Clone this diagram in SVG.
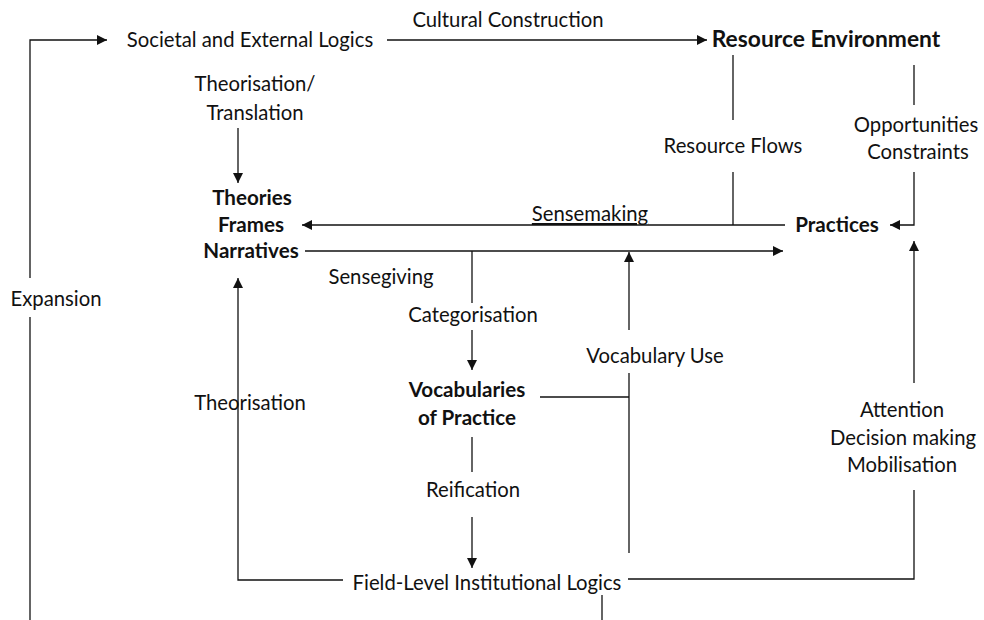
<svg xmlns="http://www.w3.org/2000/svg" width="984" height="620" viewBox="0 0 984 620">
  <style>
    text { font-family: Lato, "Open Sans", "Liberation Sans", sans-serif; font-size: 20.3px; fill: #111; text-anchor: middle; }
    text.b { font-weight: bold; font-size: 20.6px; }
    text.big { font-size: 22.8px; }
    .ln { fill: none; stroke: #111; stroke-width: 1.3; }
    .arr { marker-end: url(#ah); }
  </style>
  <defs>
    <marker id="ah" viewBox="0 0 10 10" refX="10" refY="5" markerWidth="10" markerHeight="10" markerUnits="userSpaceOnUse" orient="auto">
      <path d="M0,0 L10,5 L0,10 Z" fill="#111"/>
    </marker>
  </defs>

  <!-- connectors -->
  <g id="connectors">
    <!-- expansion loop -->
    <path class="ln" d="M30,278 V40 H107" marker-end="url(#ah)"/>
    <path class="ln" d="M30,317 V620"/>
    <!-- cultural construction -->
    <path class="ln arr" d="M387,40 H707"/>
    <!-- theorisation / translation -->
    <path class="ln arr" d="M238,128 V183"/>
    <!-- resource flows -->
    <path class="ln" d="M733,55 V120"/>
    <path class="ln" d="M733,172 V225"/>
    <!-- opportunities / constraints -->
    <path class="ln" d="M914,65 V105"/>
    <path class="ln arr" d="M914,172 V225 H890"/>
    <!-- sensemaking -->
    <path class="ln arr" d="M785,225 H302"/>
    <!-- sensegiving -->
    <path class="ln arr" d="M305,251 H783"/>
    <!-- categorisation -->
    <path class="ln" d="M472,251 V303"/>
    <path class="ln arr" d="M472,330 V370"/>
    <!-- vocabulary use -->
    <path class="ln" d="M540,397 H629"/>
    <path class="ln" d="M629,373 V553"/>
    <path class="ln arr" d="M629,330 V252"/>
    <!-- reification -->
    <path class="ln" d="M472,437 V472"/>
    <path class="ln arr" d="M472,517 V568"/>
    <!-- theorisation -->
    <path class="ln arr" d="M343,580 H238 V278"/>
    <!-- attention / decision making / mobilisation -->
    <path class="ln" d="M628,579 H914 V490"/>
    <path class="ln arr" d="M914,383 V241"/>
    <!-- stub below field-level logics -->
    <path class="ln" d="M602,595 V620"/>
  </g>

  <!-- nodes -->
  <g id="societal"><text x="250" y="47">Societal and External Logics</text></g>
  <g id="resource-env"><text class="b big" x="826" y="47">Resource Environment</text></g>
  <g id="theories">
    <text class="b" x="252" y="205">Theories</text>
    <text class="b" x="251" y="232">Frames</text>
    <text class="b" x="251" y="258">Narratives</text>
  </g>
  <g id="practices"><text class="b" x="837" y="232">Practices</text></g>
  <g id="vocabularies">
    <text class="b" x="467" y="397">Vocabularies</text>
    <text class="b" x="467" y="425">of Practice</text>
  </g>
  <g id="field-logics"><text x="487" y="590">Field-Level Institutional Logics</text></g>

  <!-- connector labels -->
  <g id="labels">
    <text x="508" y="27">Cultural Construction</text>
    <text x="255" y="91">Theorisation/</text>
    <text x="255" y="120">Translation</text>
    <text x="733" y="153">Resource Flows</text>
    <text x="916" y="132">Opportunities</text>
    <text x="918" y="159">Constraints</text>
    <text x="590" y="221" text-decoration="underline">Sensemaking</text>
    <text x="381" y="284">Sensegiving</text>
    <text x="473" y="322">Categorisation</text>
    <text x="655" y="363">Vocabulary Use</text>
    <text x="250" y="410">Theorisation</text>
    <text x="473" y="497">Reification</text>
    <text x="902" y="417">Attention</text>
    <text x="903" y="445">Decision making</text>
    <text x="902" y="472">Mobilisation</text>
    <text x="56" y="306">Expansion</text>
  </g>
</svg>
